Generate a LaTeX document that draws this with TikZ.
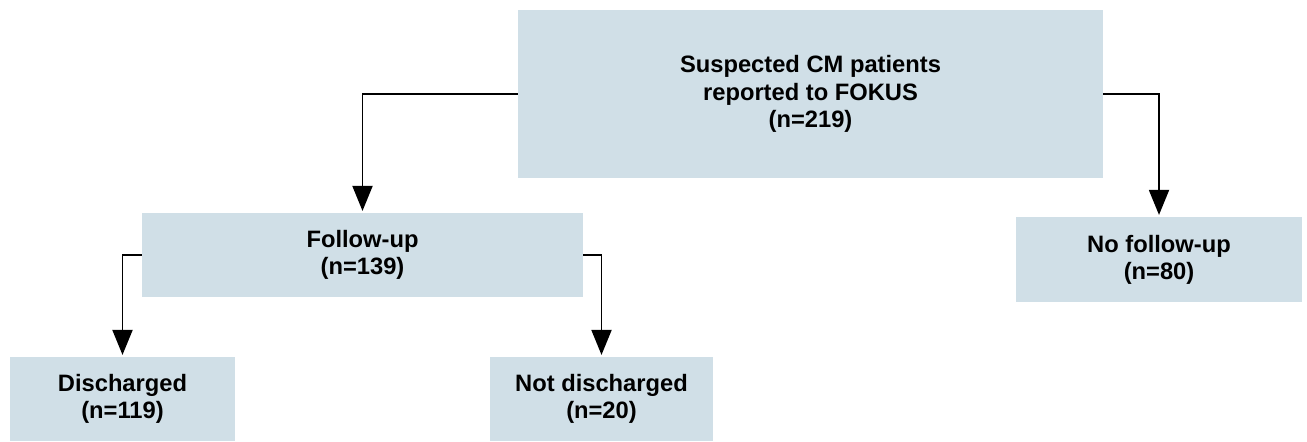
\documentclass[tikz,border=0pt]{standalone}
\usepackage{fontspec}
\setmainfont{Liberation Sans}
\usepackage[]{tikz}
\usetikzlibrary{positioning}
\usetikzlibrary{arrows.meta}
\definecolor{boxfill}{RGB}{208,223,231}

\begin{document}
\begin{tikzpicture}[x=0.02cm,y=-0.02cm,
    box/.style={fill=boxfill,inner sep=0pt,align=center,
        font=\fontsize{13.5}{15.5}\selectfont\bfseries},
    arr/.style={-{Triangle[length=0.5cm,width=0.4cm]},line width=1.1pt,shorten >=1pt}]
            \useasboundingbox (0,0) rectangle (1307,441);
            \node[box,minimum width=11.7cm,minimum height=3.36cm] (top) at (810.5,94)
                {Suspected CM patients\\reported to FOKUS\\(n=219)};
            \node[box,minimum width=8.82cm,minimum height=1.68cm] (follow) at (362.5,255)
                {Follow-up\\(n=139)};
            \node[box,minimum width=5.72cm,minimum height=1.7cm] (nofollow) at (1159,259.5)
                {No follow-up\\(n=80)};
            \node[box,minimum width=4.5cm,minimum height=1.68cm] (dis) at (122.5,399)
                {Discharged\\(n=119)};
            \node[box,minimum width=4.46cm,minimum height=1.68cm] (notdis) at (601.5,399)
                {Not discharged\\(n=20)};
            \draw[arr] (top.west) -| (follow.north);
            \draw[arr] (top.east) -| (nofollow.north);
            \draw[arr] (follow.west) -| (dis.north);
            \draw[arr] (follow.east) -| (notdis.north);
        \end{tikzpicture}
\end{document}
